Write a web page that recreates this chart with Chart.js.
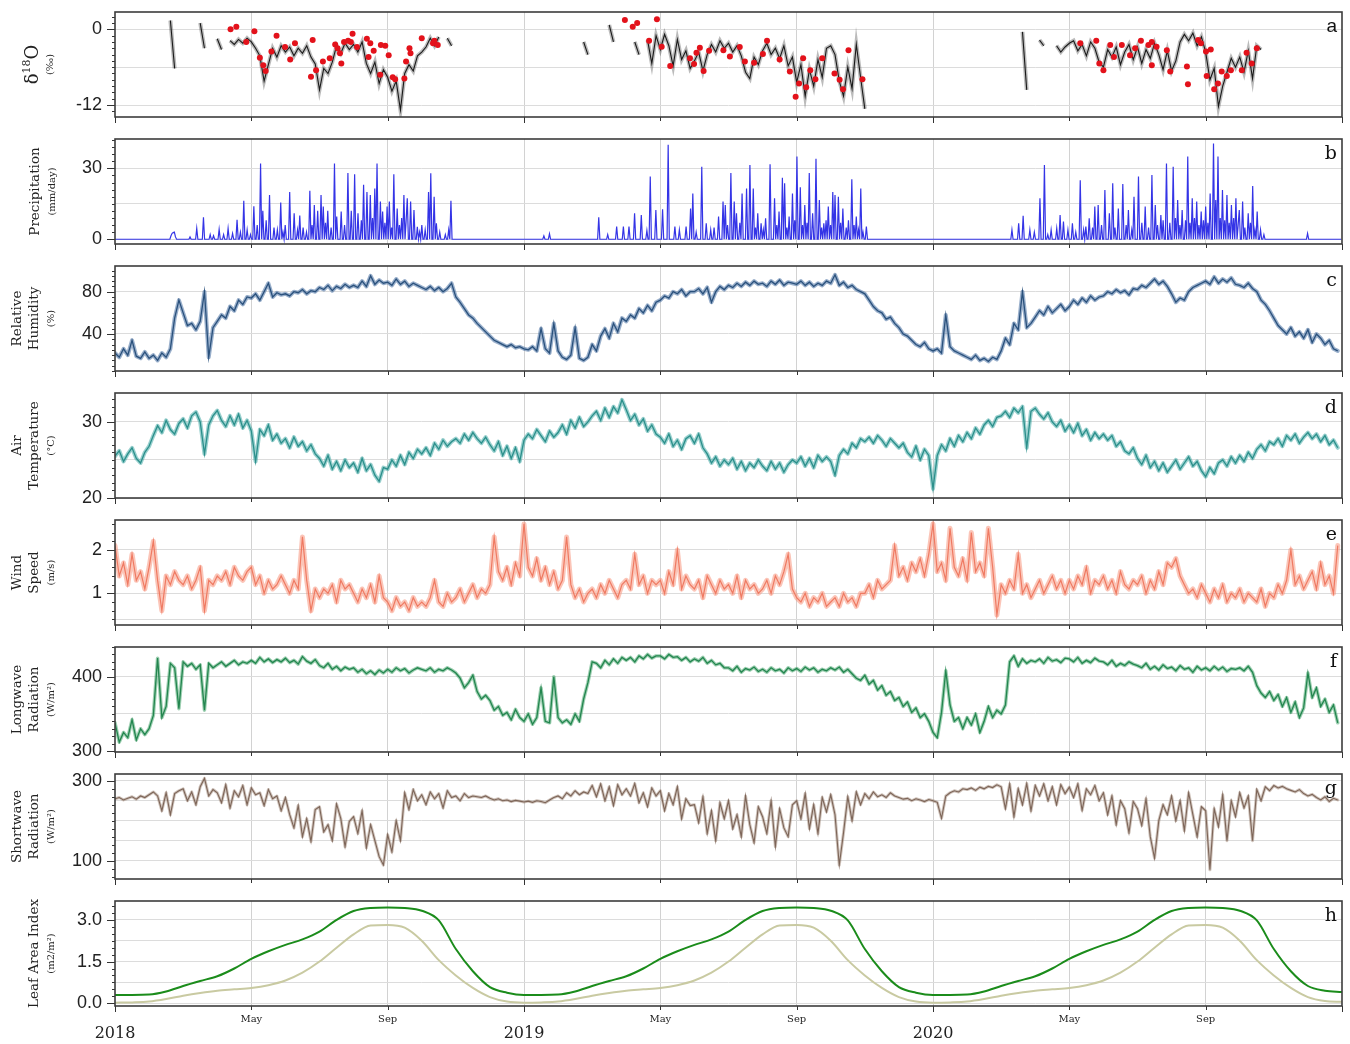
<!DOCTYPE html>
<html>
<head>
<meta charset="utf-8">
<script src="https://cdn.jsdelivr.net/npm/chart.js@4.4.1/dist/chart.umd.min.js"></script>
<style>
  html, body { margin: 0; padding: 0; background: #ffffff; }
  #wrap { position: relative; width: 1350px; height: 1044px; overflow: hidden; background: #ffffff; }
  #wrap canvas { display: block; }
</style>
</head>
<body>
<div id="wrap"></div>
<script>
// ---- time axis (x in months since 1 Jan 2018) ----
const MONTH_TICKS = [0, 4, 8, 12, 16, 20, 24, 28, 32, 36];
const MONTH_TICK_LABELS = ['2018', 'May', 'Sep', '2019', 'May', 'Sep', '2020', 'May', 'Sep', ''];
const DAYS_PER_MONTH = 365.25 / 12;
const SAMPLES_PER_MONTH = 8;   // regular series: 8 samples per month
const LAI_PER_MONTH = 2;       // leaf area index: 2 samples per month

// ---- (a) vapour delta-18O (permil), 8 samples per month, null = no record ----
const d18O = [
  null,null,null,null,null,null,null,null,
  null,null,null,null,null,1.4,-6.2,null,
  null,null,null,null,1.0,-3.0,null,null,
  -1.5,-3.2,null,-1.8,-2.4,-1.6,-2.2,-1.4,
  -2.0,-3.0,-4.2,-8.2,-5.6,-3.0,-4.4,-2.6,
  -3.6,-2.8,-4.2,-3.0,-3.8,-2.6,-4.4,-5.5,
  -9.6,-6.2,-7.0,-5.2,-2.6,-3.8,-2.2,-3.2,
  -2.4,-3.6,-2.0,-5.4,-7.0,-5.2,-8.6,-6.4,
  -7.6,-9.8,-8.2,-12.8,-7.0,-5.6,-6.6,-4.2,
  -3.6,-2.8,-1.4,-2.6,-1.2,null,-1.4,-2.6,
  null,null,null,null,null,null,null,null,
  null,null,null,null,null,null,null,null,
  null,null,null,null,null,null,null,null,
  null,null,null,null,null,null,-2.0,-4.0,
  null,null,null,null,0.7,-2.0,null,null,
  null,null,-2.0,-4.0,null,-1.7,-5.4,-1.0,
  -3.2,-0.8,-2.6,-5.8,-1.6,-4.8,-3.4,-6.2,
  -5.0,-3.6,-6.6,-4.0,-2.4,-3.6,-1.8,-3.0,
  -2.2,-3.6,-2.6,-4.2,-6.8,-7.8,-4.4,-5.6,
  -3.4,-2.2,-4.0,-3.0,-4.6,-2.6,-5.8,-4.4,
  -8.4,-5.6,-10.6,-6.4,-9.0,-4.8,-7.6,-3.0,
  -2.6,-4.0,-8.2,-10.6,-6.0,-9.4,-2.4,-7.6,
  -12.6,null,null,null,null,null,null,null,
  null,null,null,null,null,null,null,null,
  null,null,null,null,null,null,null,null,
  null,null,null,null,null,null,null,null,
  null,null,null,null,null,-0.4,-9.6,null,
  null,-1.7,-2.6,null,null,-2.6,-3.6,-2.8,
  -2.2,-1.8,-3.4,-2.4,-4.2,-2.0,-3.0,-5.2,
  -6.0,-3.2,-4.4,-2.8,-5.6,-3.6,-2.4,-4.8,
  -2.8,-5.4,-3.2,-4.6,-2.2,-4.0,-6.4,-3.4,
  -6.6,-5.0,-2.0,-0.8,-1.8,-0.6,-2.6,-1.2,
  -3.6,-8.0,-6.2,-12.2,-9.0,-6.8,-4.6,-6.0,
  -4.4,-6.8,-3.4,-7.8,-2.6,-3.2,null,null,
  null,null,null,null,null,null,null,null,
  null,null,null,null,null,null,null,null
];

// precipitation-sample delta-18O: month position and value
const sampleMonth = [
  3.39,3.56,3.85,4.09,4.25,4.35,4.42,4.59,4.74,4.99,5.14,5.28,5.80,5.75,5.90,6.10,6.30,6.46,6.53,6.60,6.64,6.72,6.84,6.97,6.92,7.10,7.39,7.49,7.44,7.59,7.78,7.80,7.93,8.03,8.15,8.22,8.49,8.54,8.64,8.67,9.00,9.33,9.37,9.47,
  14.96,15.19,15.32,15.90,15.67,16.04,16.29,16.87,16.99,17.06,17.16,17.27,17.43,17.85,18.04,18.33,18.48,18.75,19.01,19.13,19.50,19.80,19.97,20.07,20.19,20.28,20.40,20.55,20.75,21.11,21.26,21.36,21.52,21.93,
  28.32,28.79,28.88,29.00,29.20,29.31,29.54,29.78,29.93,30.10,30.32,30.42,30.56,30.42,30.86,30.96,31.45,31.48,31.78,31.86,32.01,32.15,32.03,32.25,32.36,32.47,32.62,32.74,33.06,33.20,33.35,33.50
];
const sampleD18O = [
  0,0.4,-2,-0.3,-4.5,-5.7,-6.6,-3.5,-1,-2.8,-4.8,-2.2,-1.7,-7.5,-6.5,-5.1,-4.6,-2.4,-3,-3.8,-5.4,-2,-1.8,-0.7,-2,-2.8,-1.5,-2.2,-4.4,-3.4,-7.2,-2.5,-2.6,-4.1,-7.6,-7.9,-7.8,-5.1,-3,-3.8,-1.4,-2.2,-1.8,-2.5,
  1.5,0.4,1.0,1.6,-1.8,-2.75,-5.8,-4.6,-5.5,-3.7,-2.9,-6.6,-3.4,-3.3,-4.3,-2.8,-5.1,-5.3,-3.9,-1.8,-4.8,-6.7,-10.7,-8.6,-4.6,-9.2,-6.5,-7.9,-4.6,-7,-8,-9.5,-3.3,-7.9,
  -2.2,-1.8,-5.4,-6.5,-2.5,-4.4,-2.5,-4.1,-3,-1.8,-2.5,-2,-2.75,-5.7,-3.3,-6.7,-5.9,-8.7,-1.7,-2.2,-3.5,-3.2,-7.4,-9.5,-8.6,-6.7,-7.4,-6.5,-6.5,-3.7,-5.4,-3
];

// ---- (b) precipitation (mm/day): wet days (day of record) and amounts; other days are dry ----
const rainDay = [
  50,51,52,53,54,67,73,79,85,88,93,97,101,105,109,112,115,118,121,124,127,130,132,135,138,142,145,148,150,152,156,160,163,165,168,171,174,176,178,181,184,186,188,190,193,196,198,202,205,208,211,214,217,220,222,225,228,230,232,234,237,239,241,243,245,247,249,252,254,256,258,260,261,264,267,270,272,274,277,280,282,285,287,290,295,298,300,
  383,388,432,440,448,454,459,464,470,475,478,483,489,494,500,504,510,514,516,519,524,528,532,535,539,543,545,547,550,553,555,558,560,564,567,570,572,574,577,579,581,585,589,591,593,596,598,600,602,605,607,609,612,614,616,618,620,623,626,629,631,633,635,637,639,641,643,646,648,650,653,655,658,660,662,664,666,668,671,
  801,807,811,817,821,826,830,833,836,841,844,847,851,855,858,862,865,867,870,873,875,878,881,884,888,891,893,896,900,903,905,908,910,914,917,920,923,926,929,931,934,936,939,942,945,947,949,951,953,956,958,960,962,964,966,968,970,972,974,976,978,981,983,985,987,989,991,993,995,997,999,1001,1003,1004,1007,1009,1012,1014,1016,1018,1020,1023,1026,1065
];
const rainMm = [
  1.5,2.5,2.8,3,1,1,4.6,9.3,2,1.5,4.2,2,4.6,2.5,8.2,3,16.3,4,2,14,6,32,12,8,18.7,5,4,15.5,3,6,20,11,4,10,5,3,20.5,6,14.5,12,18.7,13.8,7,12,5,32,9.6,11.7,6,28,12,27.5,11,8,23,20,18.7,9,21.5,32,16,11.7,7,13.8,16,5,27.5,13,6,9,18.7,8,17.3,16,12.4,5.3,3,6,4,20,27.9,18,6.8,3,2,4,16.3,
  1.4,2.3,9.3,2,5.4,5.4,5.4,11,10.3,3.7,26.5,12.4,12.7,40,5.4,4,5.4,13,19.4,3,30.7,6.8,4,5,9.6,16,14.5,6,28,16,11,7,19.4,21.5,31.4,21.5,5,11,6.8,4,8.9,31.7,17.3,6,11.7,26,23.7,5,9.6,19.4,8,35,22,6,14.5,7,28,11,34,16.6,5,6.8,8,13.8,6,20,18.7,18,7,13,5,8,25.4,6,9.6,4,21.5,3,5.4,
  4,6.8,9.9,4,3,17.3,31.4,2,4,4.6,10.3,7.5,4,6.8,3,25,4,5.4,8.9,5,13.8,14.5,6,20.8,11,23.7,5,13,23.4,6,12.4,4,18,26.5,7,13.8,5,27.2,14.5,6,10.3,8,32,7,30.7,9,16.6,6,12.4,8,35,7,17.3,9,16,6,11.7,8,13.8,7,19.4,40.5,16.6,35,9,20.8,8,18.7,7,14.5,9,17.3,6,12.4,16,5,11,7,22.5,4,11.7,4,2,2.5
];
const RECORD_DAYS = 1096;

// ---- (c) relative humidity (%), 8 samples per month ----
const relHumidity = [
  22,18,26,20,34,19,17,23,
  17,20,15,22,18,26,55,72,
  60,48,50,44,52,80,18,46,
  52,58,55,66,62,72,68,75,
  74,78,72,80,88,75,79,77,
  78,76,80,79,82,78,81,80,
  84,82,86,81,85,83,87,84,
  86,84,90,85,95,87,91,88,
  89,86,92,87,90,85,88,86,
  84,82,85,81,84,80,83,88,
  75,70,64,58,55,50,46,42,
  38,34,32,30,28,30,27,28,
  26,25,28,24,45,26,22,50,
  24,18,16,20,46,17,15,18,
  30,24,38,45,36,50,42,55,
  52,58,55,64,60,67,62,70,
  72,76,74,80,78,82,76,80,
  80,83,78,84,70,80,85,82,
  86,84,88,85,89,86,90,87,
  88,85,90,87,91,86,89,88,
  87,90,86,89,85,88,86,90,
  88,96,86,89,84,86,82,80,
  78,72,66,62,60,54,56,50,
  46,40,38,34,30,28,32,26,
  24,26,22,58,28,24,22,20,
  18,16,20,15,17,14,18,16,
  24,36,30,50,44,80,46,50,
  56,62,58,66,60,64,68,62,
  66,72,68,74,70,76,72,75,
  76,80,78,82,79,81,77,83,
  82,86,84,88,92,87,90,85,
  78,70,74,72,80,84,86,88,
  90,87,94,88,92,89,93,87,
  86,84,88,83,80,72,68,62,
  55,48,44,40,46,38,42,36,
  44,32,40,36,30,34,26,24
];

// ---- (d) air temperature (deg C) ----
const airTemp = [
  25.5,26.2,24.8,25.8,26.6,25.2,24.6,26.0,
  26.8,28.2,29.5,28.6,30.2,29.0,28.4,29.8,
  30.4,29.2,30.8,31.3,30.0,25.8,29.6,30.8,
  31.5,30.2,29.4,30.8,29.6,31.0,29.2,30.2,
  28.8,24.8,29.0,28.2,29.6,27.6,28.4,27.2,
  27.8,26.6,28.0,26.8,27.4,26.2,27.0,25.8,
  25.2,24.2,25.6,23.8,24.8,23.6,25.0,24.0,
  24.6,23.4,25.2,23.6,24.4,23.0,22.2,24.0,
  23.8,25.0,24.2,25.6,24.4,26.0,25.2,26.4,
  25.8,26.6,25.6,27.2,26.4,27.6,26.8,27.4,
  27.8,27.2,28.4,27.6,28.6,27.8,27.2,28.0,
  27.0,26.2,27.4,25.6,26.8,25.2,26.6,24.8,
  27.6,28.4,27.8,29.0,28.2,27.4,28.8,28.0,
  28.6,29.6,28.4,30.2,29.2,30.6,29.4,30.0,
  30.8,31.4,30.2,31.8,30.6,32.0,31.2,32.9,
  31.6,30.2,31.0,29.6,30.4,28.8,29.6,28.4,
  28.0,27.2,28.4,26.8,27.6,26.4,27.8,28.2,
  27.2,28.4,26.6,25.8,24.6,25.4,24.2,25.0,
  24.4,25.2,23.8,24.8,23.6,24.6,24.0,25.0,
  24.2,23.6,24.8,23.8,24.6,23.4,24.4,25.0,
  24.6,25.4,24.2,25.2,24.0,25.6,24.8,25.4,
  24.8,23.0,25.6,26.4,25.8,27.2,26.6,27.8,
  27.4,28.0,27.2,28.2,27.6,26.8,27.8,27.2,
  26.6,27.2,26.0,25.4,26.8,25.0,26.4,25.6,
  21.2,25.6,27.0,26.2,27.8,26.8,28.2,27.4,
  28.6,27.8,29.2,28.4,29.6,30.2,29.4,30.6,
  30.8,31.4,30.6,31.8,31.2,32.0,26.6,31.4,
  31.8,31.0,30.4,31.2,30.0,29.4,30.2,28.8,
  29.6,28.6,29.8,28.2,29.0,27.6,28.6,27.8,
  28.4,27.6,28.2,26.8,27.4,26.2,25.8,26.6,
  25.2,24.4,25.6,24.0,24.8,23.6,24.6,23.4,
  24.2,25.0,23.8,24.6,25.4,24.2,24.8,23.6,
  22.8,24.0,23.2,24.6,25.0,24.2,25.4,24.6,
  25.6,24.8,26.0,25.2,26.4,27.0,26.2,27.4,
  27.0,27.8,26.8,28.2,27.6,28.4,27.2,28.0,
  28.6,27.8,28.4,27.4,28.2,27.0,27.6,26.6
];

// ---- (e) wind speed (m/s) ----
const windSpeed = [
  2.1,1.4,1.7,1.2,1.9,1.3,1.5,1.1,
  1.6,2.2,1.3,0.6,1.4,1.2,1.5,1.3,
  1.2,1.4,1.1,1.3,1.6,0.6,1.3,1.2,
  1.4,1.3,1.5,1.2,1.6,1.4,1.3,1.5,
  1.6,1.2,1.4,1.0,1.3,1.1,1.2,1.4,
  1.2,1.0,1.3,1.1,2.3,1.3,0.6,1.1,
  0.9,1.1,1.0,1.2,0.8,1.3,1.1,1.2,
  1.0,0.8,1.1,0.9,1.2,0.8,1.4,0.9,
  0.8,0.6,0.9,0.7,0.8,0.6,0.9,0.7,
  0.8,0.7,0.9,1.3,0.8,0.7,1.0,0.8,
  0.9,1.1,0.8,1.0,1.2,0.9,1.1,1.0,
  1.2,2.3,1.5,1.3,1.6,1.2,1.7,1.4,
  2.6,1.6,1.4,1.8,1.3,1.6,1.2,1.5,
  1.1,1.3,2.3,1.2,0.9,1.1,0.8,1.0,
  1.1,0.9,1.2,1.0,1.3,1.1,0.9,1.2,
  1.3,1.1,1.9,1.2,1.4,1.0,1.3,1.2,
  1.3,1.0,1.5,1.2,2.0,1.1,1.4,1.2,
  1.1,1.3,0.9,1.4,1.2,1.0,1.3,1.1,
  1.2,1.0,1.4,0.9,1.3,1.1,1.2,1.0,
  1.1,1.3,1.0,1.4,1.2,1.5,1.9,1.1,
  0.9,0.8,1.0,0.7,0.9,0.8,1.0,0.7,
  0.8,0.9,0.7,1.0,0.8,0.9,0.7,1.0,
  1.0,1.2,0.9,1.3,1.1,1.2,1.3,2.1,
  1.4,1.6,1.3,1.7,1.5,1.8,1.4,1.9,
  2.6,1.5,1.7,1.3,2.5,1.6,1.4,1.8,
  1.3,2.4,1.5,1.7,1.4,2.5,1.6,0.5,
  1.2,1.0,1.3,1.1,1.9,1.0,1.2,0.9,
  1.1,1.3,1.0,1.2,1.4,1.1,1.3,1.0,
  1.3,1.1,1.4,1.2,1.6,1.0,1.3,1.2,
  1.4,1.1,1.3,1.0,1.5,1.2,1.1,1.3,
  1.2,1.4,1.0,1.3,1.1,1.5,1.2,1.7,
  1.6,1.8,1.4,1.2,1.0,1.1,0.9,1.2,
  1.0,0.8,1.1,0.9,1.2,0.8,1.0,0.9,
  1.1,0.8,1.0,0.9,0.8,1.1,0.7,1.0,
  0.9,1.2,1.0,1.3,2.0,1.2,1.4,1.1,
  1.3,1.5,1.1,1.7,1.2,1.4,1.0,2.1
];

// ---- (f) longwave radiation (W/m2) ----
const longwave = [
  338,312,325,318,342,315,330,322,
  330,348,425,345,360,418,412,357,
  420,414,418,410,416,355,418,412,
  416,420,414,418,422,416,420,418,
  422,418,426,420,424,419,423,420,
  425,419,422,417,427,421,418,423,
  415,412,418,410,414,408,413,410,
  412,406,410,404,408,403,409,405,
  410,406,412,408,411,405,409,412,
  410,408,412,406,410,408,412,409,
  405,398,385,392,402,380,370,375,
  368,355,360,348,352,342,356,345,
  340,350,336,345,385,340,338,400,
  345,338,342,336,350,340,370,392,
  420,418,412,422,416,424,418,426,
  422,426,420,428,424,430,425,428,
  428,424,430,426,427,422,426,420,
  424,421,426,418,422,416,418,412,
  412,408,414,406,411,409,413,407,
  410,406,412,408,410,405,412,408,
  411,407,413,409,412,406,410,408,
  412,409,413,406,410,404,398,395,
  402,390,395,382,388,375,380,368,
  372,360,366,352,358,345,350,340,
  325,318,352,408,362,340,345,330,
  345,335,350,325,340,360,345,355,
  350,362,420,428,414,424,418,422,
  420,424,418,426,421,423,419,425,
  424,420,426,418,422,419,425,421,
  420,416,422,414,418,415,420,417,
  415,412,418,410,414,409,416,411,
  413,408,415,410,412,406,414,409,
  412,408,414,409,413,407,411,410,
  412,408,414,406,388,378,372,380,
  368,376,360,372,352,366,345,358,
  405,372,385,360,370,352,362,338
];

// ---- (g) shortwave radiation (W/m2) ----
const shortwave = [
  255,258,252,256,260,254,262,258,
  265,272,262,225,270,215,268,275,
  280,250,272,240,285,306,262,278,
  270,245,290,232,275,260,288,240,
  282,265,270,238,278,255,262,225,
  258,215,182,238,160,205,148,228,
  235,172,190,150,242,205,135,198,
  210,168,225,132,190,150,110,89,
  165,122,200,150,270,228,278,250,
  265,240,272,255,268,232,275,258,
  262,250,268,258,262,260,258,262,
  256,252,255,250,252,248,251,249,
  247,249,246,250,248,245,252,258,
  262,255,270,262,275,265,272,268,
  288,260,292,250,285,238,290,265,
  280,262,293,245,270,235,282,262,
  275,225,268,240,285,205,255,238,
  240,195,260,168,225,150,245,205,
  250,180,215,160,262,190,145,235,
  210,168,250,135,230,182,160,240,
  250,205,268,180,240,168,258,222,
  265,215,89,170,260,200,272,240,
  268,255,272,260,265,258,270,262,
  258,254,256,250,255,252,248,253,
  250,246,206,262,270,275,272,280,
  278,282,276,284,280,286,283,290,
  285,230,292,210,280,240,293,225,
  288,262,292,250,285,240,290,268,
  284,258,292,226,280,265,288,250,
  270,215,262,190,250,230,170,248,
  230,188,255,160,106,200,240,215,
  262,200,250,175,270,215,160,235,
  225,77,230,185,265,150,250,210,
  270,232,262,150,278,250,285,275,
  288,282,286,280,276,272,278,268,
  262,266,258,252,260,248,256,252
];

// ---- (h) leaf area index (m2/m2), 2 samples per month ----
const laiTotal = [
  0.30,0.30,0.31,0.42,0.62,0.80,0.97,1.25,1.60,1.87,2.10,2.30,2.58,3.00,3.32,3.43,3.45,3.43,3.33,2.98,1.95,1.15,0.58,0.38,
  0.30,0.30,0.31,0.42,0.62,0.80,0.97,1.25,1.60,1.87,2.10,2.30,2.58,3.00,3.32,3.43,3.45,3.43,3.33,2.98,1.95,1.15,0.58,0.38,
  0.30,0.30,0.31,0.42,0.62,0.80,0.97,1.25,1.60,1.87,2.10,2.30,2.58,3.00,3.32,3.43,3.45,3.43,3.33,2.98,1.95,1.15,0.62,0.45,
  0.40
];
const laiCrop = [
  0.02,0.03,0.06,0.15,0.27,0.37,0.45,0.50,0.55,0.65,0.82,1.10,1.50,2.00,2.48,2.80,2.82,2.72,2.25,1.55,1.00,0.55,0.22,0.06,
  0.02,0.03,0.06,0.15,0.27,0.37,0.45,0.50,0.55,0.65,0.82,1.10,1.50,2.00,2.48,2.80,2.82,2.72,2.25,1.55,1.00,0.55,0.22,0.06,
  0.02,0.03,0.06,0.15,0.27,0.37,0.45,0.50,0.55,0.65,0.82,1.10,1.50,2.00,2.48,2.80,2.82,2.72,2.25,1.55,1.00,0.55,0.22,0.08,
  0.05
];

// ---------------------------------------------------------------------------
const TITLE_FONT = '"DejaVu Serif", "Liberation Serif", serif';
const TICK_FONT = '"Liberation Sans Narrow", "Liberation Sans", Arial, sans-serif';
const PLOT_LEFT = 115, PLOT_RIGHT = 1342;

function regular(vals, perMonth) {
  return vals.map((v, i) => ({ x: i / perMonth, y: v }));
}
function pairs(xs, ys) {
  return xs.map((x, i) => ({ x: x, y: ys[i] }));
}
function dailyRain() {
  const daily = new Array(RECORD_DAYS).fill(0);
  rainDay.forEach((d, i) => { daily[d] = rainMm[i]; });
  return daily.map((v, d) => ({ x: d / DAYS_PER_MONTH, y: v }));
}
function bandPair(points, color, bandColor, bandWidth, lineWidth) {
  return [
    { data: points, borderColor: color, borderWidth: lineWidth, pointRadius: 0, order: 1, spanGaps: false },
    { data: points, borderColor: bandColor, borderWidth: bandWidth, pointRadius: 0, order: 2, spanGaps: false,
      borderJoinStyle: 'round', borderCapStyle: 'round' }
  ];
}

// panel geometry, axis ranges and labels
const PANELS = [
  { letter: 'a', letterFont: '19px "Liberation Sans", Arial, sans-serif', top: 12, bottom: 117, min: -13.9, max: 2.75,
    grid: [-12, -6, 0], major: [-12, 0], labels: { '-12': '-12', '0': '0' }, minor: 1,
    title: [ { x: 33, segs: [['δ', 18, 0], ['18', 11, -6], ['O', 18, 0]] }, { x: 50, segs: [['(‰)', 10, 0]] } ] },
  { letter: 'b', top: 139, bottom: 244, min: -2, max: 42.4,
    grid: [0, 15, 30], major: [0, 30], labels: { '0': '0', '30': '30' }, minor: 3,
    title: [ { x: 35, segs: [['Precipitation', 13.5, 0]] }, { x: 52, segs: [['(mm/day)', 10, 0]] } ] },
  { letter: 'c', top: 266, bottom: 371, min: 5, max: 104.3,
    grid: [40, 80], major: [40, 80], labels: { '40': '40', '80': '80' }, minor: 5,
    title: [ { x: 17, segs: [['Relative', 13.5, 0]] }, { x: 34, segs: [['Humidity', 13.5, 0]] }, { x: 51, segs: [['(%)', 10, 0]] } ] },
  { letter: 'd', top: 393, bottom: 498, min: 20, max: 33.8,
    grid: [20, 25, 30], major: [20, 30], labels: { '20': '20', '30': '30' }, minor: 1,
    title: [ { x: 17, segs: [['Air', 13.5, 0]] }, { x: 34, segs: [['Temperature', 13.5, 0]] }, { x: 51, segs: [['(°C)', 10, 0]] } ] },
  { letter: 'e', top: 520, bottom: 625, min: 0.27, max: 2.69,
    grid: [0.4, 1, 2], major: [1, 2], labels: { '1': '1', '2': '2' }, minor: 0.2,
    title: [ { x: 17, segs: [['Wind', 13.5, 0]] }, { x: 34, segs: [['Speed', 13.5, 0]] }, { x: 51, segs: [['(m/s)', 10, 0]] } ] },
  { letter: 'f', top: 647, bottom: 752, min: 298.7, max: 440,
    grid: [300, 350, 400], major: [300, 400], labels: { '300': '300', '400': '400' }, minor: 10,
    title: [ { x: 17, segs: [['Longwave', 13.5, 0]] }, { x: 34, segs: [['Radiation', 13.5, 0]] }, { x: 51, segs: [['(W/m²)', 10, 0]] } ] },
  { letter: 'g', top: 774, bottom: 879, min: 54, max: 317,
    grid: [100, 150, 200, 250, 300], major: [100, 300], labels: { '100': '100', '300': '300' }, minor: 20,
    title: [ { x: 17, segs: [['Shortwave', 13.5, 0]] }, { x: 34, segs: [['Radiation', 13.5, 0]] }, { x: 51, segs: [['(W/m²)', 10, 0]] } ] },
  { letter: 'h', top: 901, bottom: 1006, min: -0.1, max: 3.68,
    grid: [0, 0.75, 1.5, 2.25, 3.0], major: [0, 1.5, 3.0], labels: { '0': '0.0', '1.5': '1.5', '3': '3.0' }, minor: 0.25,
    title: [ { x: 34, segs: [['Leaf Area Index', 13.5, 0]] }, { x: 51, segs: [['(m2/m²)', 10, 0]] } ] }
];

function drawRotatedLine(ctx, x, yc, segs) {
  ctx.save();
  ctx.translate(x, yc);
  ctx.rotate(-Math.PI / 2);
  ctx.textBaseline = 'middle';
  ctx.fillStyle = '#222';
  let total = 0;
  segs.forEach(s => { ctx.font = s[1] + 'px ' + TITLE_FONT; total += ctx.measureText(s[0]).width; });
  let cx = -total / 2;
  segs.forEach(s => {
    ctx.font = s[1] + 'px ' + TITLE_FONT;
    ctx.textAlign = 'left';
    ctx.fillText(s[0], cx, s[2]);
    cx += ctx.measureText(s[0]).width;
  });
  ctx.restore();
}

// frame, tick marks, axis titles, panel letters and time labels
const panelDeco = {
  id: 'panelDeco',
  afterDraw(chart, args, opts) {
    const p = opts.panel;
    const { ctx, chartArea: a } = chart;
    const xs = chart.scales.x, ys = chart.scales.y;
    ctx.save();
    ctx.strokeStyle = '#333';
    ctx.lineWidth = 1;
    // y minor and major tick marks
    const k0 = Math.ceil(p.min / p.minor - 1e-6), k1 = Math.floor(p.max / p.minor + 1e-6);
    for (let k = k0; k <= k1; k++) {
      const py = Math.round(ys.getPixelForValue(k * p.minor)) + 0.5;
      ctx.beginPath(); ctx.moveTo(a.left - 3, py); ctx.lineTo(a.left, py); ctx.stroke();
    }
    p.major.forEach(v => {
      const py = Math.round(ys.getPixelForValue(v)) + 0.5;
      ctx.beginPath(); ctx.moveTo(a.left - 8, py); ctx.lineTo(a.left, py); ctx.stroke();
    });
    // x tick marks
    MONTH_TICKS.forEach((m, i) => {
      const px = Math.round(xs.getPixelForValue(m)) + 0.5;
      const len = (i % 3 === 0) ? 6 : 4;
      ctx.beginPath(); ctx.moveTo(px, a.bottom); ctx.lineTo(px, a.bottom + len); ctx.stroke();
    });
    // frame
    ctx.lineWidth = 1.6;
    ctx.strokeStyle = '#3c3c3c';
    ctx.strokeRect(a.left, a.top, a.right - a.left, a.bottom - a.top);
    // panel letter
    ctx.fillStyle = '#111';
    ctx.font = p.letterFont || ('19px ' + TITLE_FONT);
    ctx.textAlign = 'right';
    ctx.textBaseline = 'alphabetic';
    ctx.fillText(p.letter, a.right - 5, a.top + 20);
    // axis title
    const yc = (a.top + a.bottom) / 2;
    p.title.forEach(line => drawRotatedLine(ctx, line.x, yc, line.segs));
    // time labels under the last panel
    if (opts.bottom) {
      ctx.fillStyle = '#222';
      ctx.textAlign = 'center';
      ctx.textBaseline = 'middle';
      MONTH_TICKS.forEach((m, i) => {
        const label = MONTH_TICK_LABELS[i];
        if (!label) return;
        const px = xs.getPixelForValue(m);
        if (i % 3 === 0) {
          ctx.font = '16px ' + TITLE_FONT;
          ctx.fillText(label, px, a.bottom + 28);
        } else {
          ctx.font = '10px ' + TITLE_FONT;
          ctx.fillText(label, px, a.bottom + 13);
        }
      });
    }
    ctx.restore();
  }
};

const wrap = document.getElementById('wrap');

function makePanel(p, datasets, bottom) {
  const padTop = 12;
  const padBottom = bottom ? 1044 - p.bottom : 10;
  const H = (p.bottom - p.top) + padTop + padBottom;
  const div = document.createElement('div');
  div.style.cssText = 'position:absolute;left:0;top:' + (p.top - padTop) + 'px;width:1350px;height:' + H + 'px;';
  const cv = document.createElement('canvas');
  cv.width = 1350; cv.height = H;
  cv.style.width = '1350px'; cv.style.height = H + 'px';
  div.appendChild(cv);
  wrap.appendChild(div);
  return new Chart(cv, {
    type: 'line',
    data: { datasets: datasets },
    options: {
      responsive: false,
      animation: false,
      devicePixelRatio: 1,
      layout: { padding: { top: padTop, right: 1350 - PLOT_RIGHT, left: 0, bottom: 0 } },
      plugins: { legend: { display: false }, tooltip: { enabled: false }, panelDeco: { panel: p, bottom: bottom } },
      elements: { line: { tension: 0 } },
      scales: {
        x: {
          type: 'linear', min: 0, max: 36,
          afterFit(s) { s.height = padBottom; s.paddingLeft = 0; s.paddingRight = 0; },
          afterBuildTicks(s) { s.ticks = MONTH_TICKS.map(v => ({ value: v })); },
          ticks: { display: false },
          grid: {
            drawTicks: false, lineWidth: 1,
            color: c => (c.tick && (c.tick.value === 0 || c.tick.value === 36)) ? 'rgba(0,0,0,0)' : '#d2d2d2'
          },
          border: { display: false }
        },
        y: {
          type: 'linear', min: p.min, max: p.max,
          afterFit(s) { s.width = PLOT_LEFT; s.paddingTop = 0; s.paddingBottom = 0; },
          afterBuildTicks(s) { s.ticks = p.grid.map(v => ({ value: v })); },
          ticks: {
            padding: 13, color: '#222',
            font: { family: TICK_FONT, size: 18 },
            callback: v => (p.labels[String(v)] !== undefined ? p.labels[String(v)] : '')
          },
          grid: { drawTicks: false, lineWidth: 1, color: '#dcdcdc' },
          border: { display: false }
        }
      }
    },
    plugins: [panelDeco]
  });
}

// (a) isotope panel
makePanel(PANELS[0], [
  { type: 'line', data: pairs(sampleMonth, sampleD18O), showLine: false, pointRadius: 3, pointBorderWidth: 0,
    pointBackgroundColor: '#e3121b', order: 0 },
  { data: regular(d18O, SAMPLES_PER_MONTH), borderColor: '#1a1a1a', borderWidth: 1.1, pointRadius: 0, order: 1, spanGaps: false },
  { data: regular(d18O, SAMPLES_PER_MONTH), borderColor: 'rgba(60,60,60,0.35)', borderWidth: 4, pointRadius: 0, order: 2, spanGaps: false }
], false);

// (b) precipitation
makePanel(PANELS[1], [
  { data: dailyRain(), borderColor: '#3434e6', borderWidth: 1.2, pointRadius: 0 }
], false);

// (c)-(g) meteorological drivers
makePanel(PANELS[2], bandPair(regular(relHumidity, SAMPLES_PER_MONTH), '#2a517c', 'rgba(70,110,160,0.55)', 4, 1.3), false);
makePanel(PANELS[3], bandPair(regular(airTemp, SAMPLES_PER_MONTH), '#2b8f8b', 'rgba(70,170,165,0.55)', 4, 1.3), false);
makePanel(PANELS[4], bandPair(regular(windSpeed, SAMPLES_PER_MONTH), '#ef7a62', 'rgba(248,150,125,0.55)', 5, 1.2), false);
makePanel(PANELS[5], bandPair(regular(longwave, SAMPLES_PER_MONTH), '#23864f', 'rgba(60,160,100,0.5)', 3.5, 1.3), false);
makePanel(PANELS[6], bandPair(regular(shortwave, SAMPLES_PER_MONTH), '#7d6558', 'rgba(160,135,120,0.5)', 3, 1.1), false);

// (h) leaf area index
makePanel(PANELS[7], [
  { data: regular(laiTotal, LAI_PER_MONTH), borderColor: '#1b8c1b', borderWidth: 2, pointRadius: 0,
    cubicInterpolationMode: 'monotone', order: 0 },
  { data: regular(laiCrop, LAI_PER_MONTH), borderColor: '#c9caa2', borderWidth: 2, pointRadius: 0,
    cubicInterpolationMode: 'monotone', order: 1 }
], true);
</script>
</body>
</html>
